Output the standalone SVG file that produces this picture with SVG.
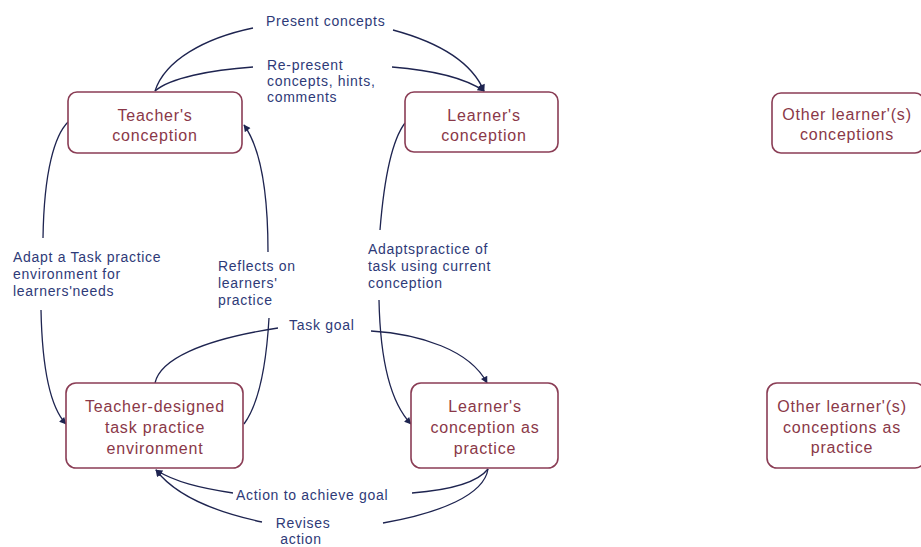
<svg xmlns="http://www.w3.org/2000/svg" width="921" height="547" viewBox="0 0 921 547">
<style>
.box{fill:#ffffff;stroke:#8a3d55;stroke-width:1.6}
.nt{font-family:"Liberation Sans",Arial,sans-serif;font-size:16px;letter-spacing:0.8px;fill:#8a3848;text-anchor:middle}
.lb{font-family:"Liberation Sans",Arial,sans-serif;font-size:14px;letter-spacing:0.7px;fill:#2e3a78}
.c{fill:none;stroke:#1e2450;stroke-width:1.3}
.a{marker-end:url(#ah)}
</style>
<defs>
<marker id="ah" viewBox="0 0 10 10" refX="9" refY="5" markerWidth="8" markerHeight="7" markerUnits="userSpaceOnUse" orient="auto">
<path d="M0,0 L10,5 L0,10 z" fill="#1e2450"/>
</marker>
</defs>
<rect width="921" height="547" fill="#ffffff"/>
<g id="connectors">
<path class="c" d="M155,91 C165,60 205,38 253,28"/>
<path class="c a" d="M393,30 C430,40 470,58 484,91"/>
<path class="c" d="M155,91 C170,78 210,70 253,67"/>
<path class="c a" d="M392,67 C430,70 465,78 484,91"/>
<path class="c" d="M68,122 C55,135 44,170 43,238"/>
<path class="c a" d="M41,310 C42,360 48,405 66,424"/>
<path class="c" d="M244,424 C258,405 266,370 269,318"/>
<path class="c a" d="M268,252 C268,200 262,150 244,125"/>
<path class="c" d="M405,123 C392,140 384,180 380,230"/>
<path class="c a" d="M379,300 C380,350 388,400 411,424"/>
<path class="c" d="M155,383 C160,360 200,340 278,328"/>
<path class="c a" d="M371,331 C420,334 470,350 487,383"/>
<path class="c" d="M488,469 C478,482 450,490 412,493"/>
<path class="c a" d="M233,493 C200,488 175,482 156,470"/>
<path class="c" d="M488,469 C484,495 440,513 383,523"/>
<path class="c a" d="M262,522 C215,512 175,495 156,470"/>
<text class="lb" x="266" y="26">Present concepts</text>
<text class="lb" x="267" y="70">Re-present</text>
<text class="lb" x="267" y="86">concepts, hints,</text>
<text class="lb" x="267" y="102">comments</text>
<text class="lb" x="13" y="262">Adapt a Task practice</text>
<text class="lb" x="13" y="279">environment for</text>
<text class="lb" x="13" y="296">learners'needs</text>
<text class="lb" x="218" y="271">Reflects on</text>
<text class="lb" x="218" y="288">learners'</text>
<text class="lb" x="218" y="305">practice</text>
<text class="lb" x="368" y="254">Adaptspractice of</text>
<text class="lb" x="368" y="271">task using current</text>
<text class="lb" x="368" y="288">conception</text>
<text class="lb" x="289" y="330">Task goal</text>
<text class="lb" x="236" y="500">Action to achieve goal</text>
<text class="lb" x="303" y="528" text-anchor="middle">Revises</text>
<text class="lb" x="301" y="544" text-anchor="middle">action</text>
</g>
<g id="teacher-conception">
<rect class="box" x="68" y="92" width="174" height="61" rx="9"/>
<text class="nt" x="155" y="121">Teacher's</text>
<text class="nt" x="155" y="141">conception</text>
</g>
<g id="learner-conception">
<rect class="box" x="405" y="92" width="153" height="60" rx="9"/>
<text class="nt" x="484" y="121">Learner's</text>
<text class="nt" x="484" y="141">conception</text>
</g>
<g id="other-conceptions">
<rect class="box" x="772" y="93" width="152" height="60" rx="9"/>
<text class="nt" x="847" y="120">Other learner'(s)</text>
<text class="nt" x="847" y="140">conceptions</text>
</g>
<g id="teacher-environment">
<rect class="box" x="66" y="383" width="177" height="85" rx="10"/>
<text class="nt" x="155" y="412">Teacher-designed</text>
<text class="nt" x="155" y="433">task practice</text>
<text class="nt" x="155" y="454">environment</text>
</g>
<g id="learner-practice">
<rect class="box" x="411" y="383" width="147" height="85" rx="10"/>
<text class="nt" x="485" y="412">Learner's</text>
<text class="nt" x="485" y="433">conception as</text>
<text class="nt" x="485" y="454">practice</text>
</g>
<g id="other-practice">
<rect class="box" x="767" y="383" width="158" height="85" rx="10"/>
<text class="nt" x="842" y="412">Other learner'(s)</text>
<text class="nt" x="842" y="433">conceptions as</text>
<text class="nt" x="842" y="453">practice</text>
</g>
</svg>
